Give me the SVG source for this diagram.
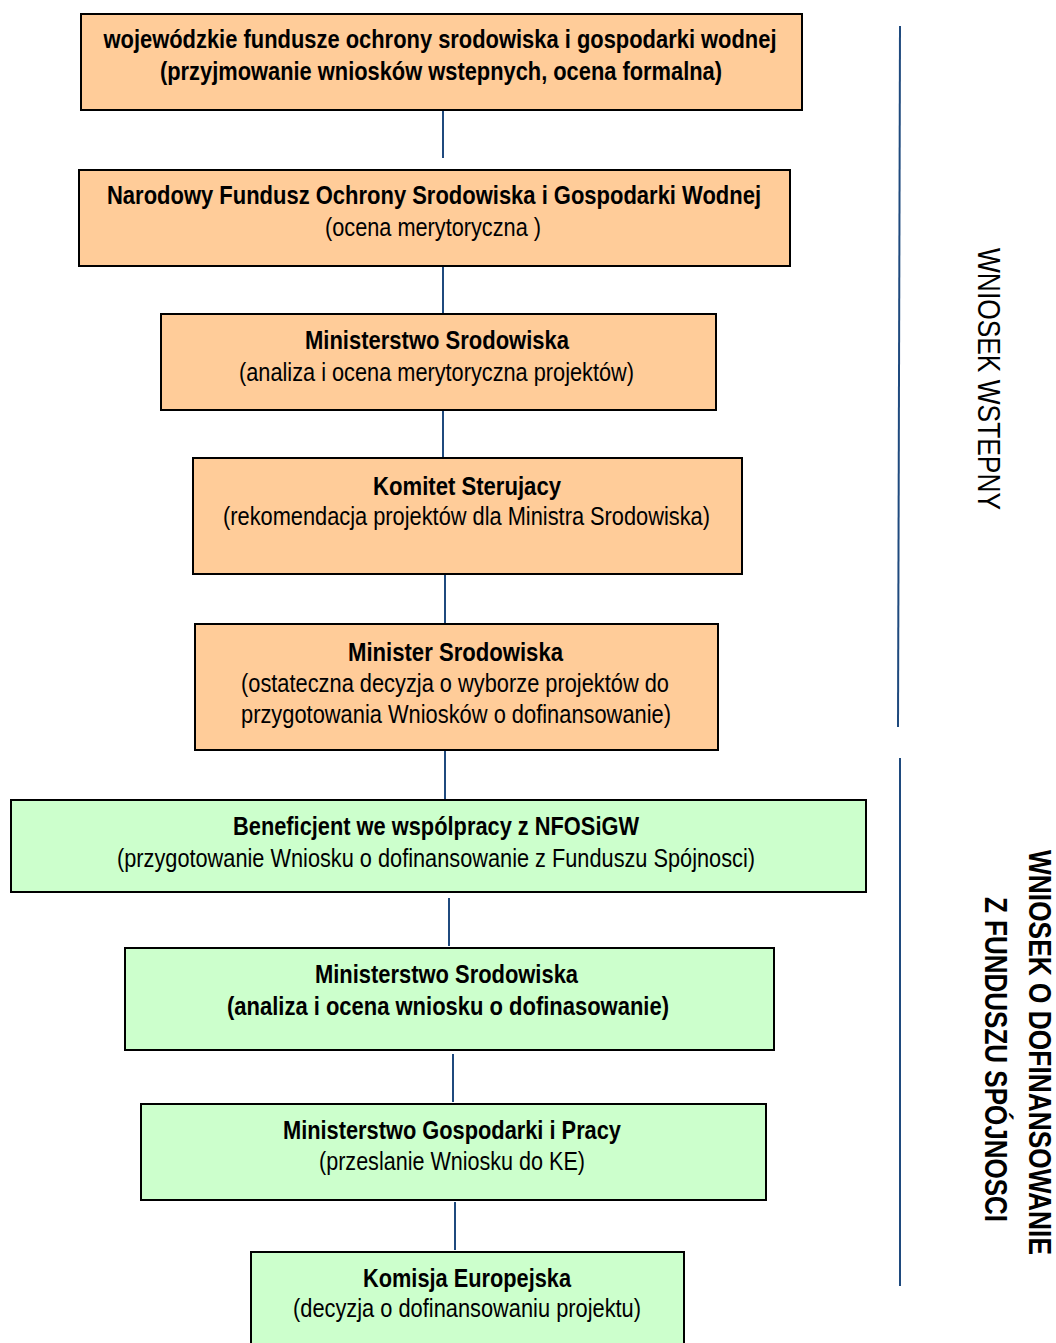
<svg xmlns="http://www.w3.org/2000/svg" width="1056" height="1343" viewBox="0 0 1056 1343">
<style>
.box{stroke:#000;stroke-width:2}
.o{fill:#FFCC99}
.g{fill:#CCFFCC}
text{font-family:"Liberation Sans",Arial,sans-serif;font-size:25px;fill:#000;text-anchor:middle}
.b{font-weight:bold}
.side{font-size:31px}
.c{stroke:#1F4A7E;stroke-width:2;fill:none}
</style>
<rect width="1056" height="1343" fill="#fff"/>
<g id="connectors">
<line class="c" x1="443" y1="110" x2="443" y2="158"/>
<line class="c" x1="443" y1="266" x2="443" y2="314"/>
<line class="c" x1="443" y1="410" x2="443" y2="458"/>
<line class="c" x1="445" y1="574" x2="445" y2="624"/>
<line class="c" x1="445" y1="750" x2="445" y2="800"/>
<line class="c" x1="449" y1="898" x2="449" y2="946"/>
<line class="c" x1="453" y1="1054" x2="453" y2="1102"/>
<line class="c" x1="455" y1="1202" x2="455" y2="1250"/>
<line class="c" x1="900" y1="26" x2="898" y2="727"/>
<line class="c" x1="900" y1="758" x2="900" y2="1286"/>
</g>
<g id="n1">
<rect class="box o" x="81" y="14" width="721" height="96"/>
<text class="b" x="440" y="48" textLength="673" lengthAdjust="spacingAndGlyphs">wojewódzkie fundusze ochrony srodowiska i gospodarki wodnej</text>
<text class="b" x="441" y="80" textLength="562" lengthAdjust="spacingAndGlyphs">(przyjmowanie wniosków wstepnych, ocena formalna)</text>
</g>
<g id="n2">
<rect class="box o" x="79" y="170" width="711" height="96"/>
<text class="b" x="434" y="204" textLength="654" lengthAdjust="spacingAndGlyphs">Narodowy Fundusz Ochrony Srodowiska i Gospodarki Wodnej</text>
<text x="433" y="236" textLength="216" lengthAdjust="spacingAndGlyphs">(ocena merytoryczna )</text>
</g>
<g id="n3">
<rect class="box o" x="161" y="314" width="555" height="96"/>
<text class="b" x="437" y="349" textLength="264" lengthAdjust="spacingAndGlyphs">Ministerstwo Srodowiska</text>
<text x="436.5" y="381" textLength="395" lengthAdjust="spacingAndGlyphs">(analiza i ocena merytoryczna projektów)</text>
</g>
<g id="n4">
<rect class="box o" x="193" y="458" width="549" height="116"/>
<text class="b" x="467" y="495" textLength="188" lengthAdjust="spacingAndGlyphs">Komitet Sterujacy</text>
<text x="466.5" y="525" textLength="487" lengthAdjust="spacingAndGlyphs">(rekomendacja projektów dla Ministra Srodowiska)</text>
</g>
<g id="n5">
<rect class="box o" x="195" y="624" width="523" height="126"/>
<text class="b" x="455.5" y="661" textLength="215" lengthAdjust="spacingAndGlyphs">Minister Srodowiska</text>
<text x="455" y="692" textLength="428" lengthAdjust="spacingAndGlyphs">(ostateczna decyzja o wyborze projektów do</text>
<text x="456" y="723" textLength="430" lengthAdjust="spacingAndGlyphs">przygotowania Wniosków o dofinansowanie)</text>
</g>
<g id="n6">
<rect class="box g" x="11" y="800" width="855" height="92"/>
<text class="b" x="436" y="835" textLength="406" lengthAdjust="spacingAndGlyphs">Beneficjent we wspólpracy z NFOSiGW</text>
<text x="436" y="867" textLength="638" lengthAdjust="spacingAndGlyphs">(przygotowanie Wniosku o dofinansowanie z Funduszu Spójnosci)</text>
</g>
<g id="n7">
<rect class="box g" x="125" y="948" width="649" height="102"/>
<text class="b" x="446.5" y="983" textLength="263" lengthAdjust="spacingAndGlyphs">Ministerstwo Srodowiska</text>
<text class="b" x="448" y="1015" textLength="442" lengthAdjust="spacingAndGlyphs">(analiza i ocena wniosku o dofinasowanie)</text>
</g>
<g id="n8">
<rect class="box g" x="141" y="1104" width="625" height="96"/>
<text class="b" x="452" y="1139" textLength="338" lengthAdjust="spacingAndGlyphs">Ministerstwo Gospodarki i Pracy</text>
<text x="452" y="1170" textLength="266" lengthAdjust="spacingAndGlyphs">(przeslanie Wniosku do KE)</text>
</g>
<g id="n9">
<rect class="box g" x="251" y="1252" width="433" height="100"/>
<text class="b" x="467" y="1287" textLength="208" lengthAdjust="spacingAndGlyphs">Komisja Europejska</text>
<text x="467" y="1317" textLength="348" lengthAdjust="spacingAndGlyphs">(decyzja o dofinansowaniu projektu)</text>
</g>
<g id="labels">
<text class="side" transform="translate(978,379) rotate(90)" x="0" y="0" textLength="262" lengthAdjust="spacingAndGlyphs">WNIOSEK WSTEPNY</text>
<text class="side b" transform="translate(1029,1052.5) rotate(90)" x="0" y="0" textLength="405" lengthAdjust="spacingAndGlyphs">WNIOSEK O DOFINANSOWANIE</text>
<text class="side b" transform="translate(985,1059.5) rotate(90)" x="0" y="0" textLength="325" lengthAdjust="spacingAndGlyphs">Z FUNDUSZU SPÓJNOSCI</text>
</g>
</svg>
